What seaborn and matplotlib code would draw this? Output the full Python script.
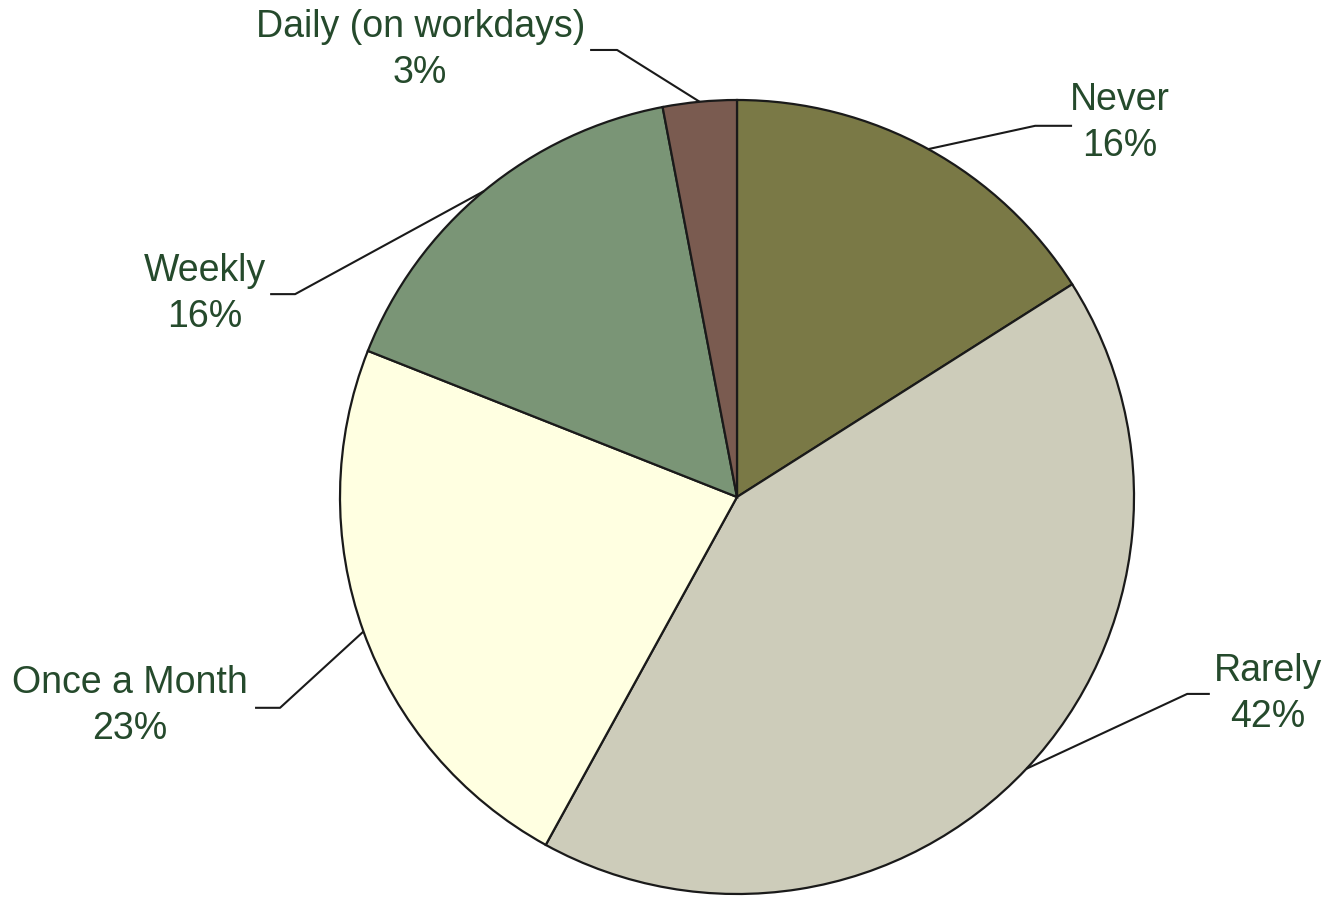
import seaborn as sns
import matplotlib.pyplot as plt
import numpy as np

# Survey answers, clockwise from 12 o'clock
categories = ["Never", "Rarely", "Once a Month", "Weekly", "Daily (on workdays)"]
shares = [16, 42, 23, 16, 3]

colors = ["#7a7946", "#cdccba", "#ffffe1", "#7a9576", "#7a5b50"]
text_color = "#254a2c"

# label placement (pie radius = 1): elbow of leader line, end of leader, text centre
label_pos = [
    ((0.751, 0.935), (0.844, 0.935), (0.965, 0.942)),
    ((1.134, -0.496), (1.191, -0.496), (1.338, -0.496)),
    ((-1.151, -0.531), (-1.214, -0.531), (-1.529, -0.526)),
    ((-1.113, 0.511), (-1.176, 0.511), (-1.340, 0.511)),
    ((-0.302, 1.126), (-0.370, 1.126), (-0.798, 1.126)),
]

sns.set_theme(style="white")
plt.rcParams["font.family"] = ["Liberation Sans", "DejaVu Sans"]

fig = plt.figure(figsize=(13.32, 8.97), dpi=100)
ax = fig.add_axes([0, 0, 1, 1])

wedges, _ = ax.pie(
    shares,
    colors=colors,
    startangle=90,
    counterclock=False,
    radius=1,
    wedgeprops=dict(edgecolor="#1a1a1a", linewidth=1.6),
)

total = sum(shares)
for w, name, val, (elbow, end, txt) in zip(wedges, categories, shares, label_pos):
    mid = np.deg2rad((w.theta1 + w.theta2) / 2)
    x0, y0 = np.cos(mid), np.sin(mid)
    ax.plot([x0, elbow[0], end[0]], [y0, elbow[1], end[1]],
            color="#1a1a1a", lw=1.5, solid_capstyle="butt")
    ax.text(txt[0], txt[1], f"{name}\n{round(100 * val / total)}%",
            ha="center", va="center", fontsize=27, color=text_color,
            linespacing=1.38)

ax.set_xlim(-737 / 397, (1332 - 737) / 397)
ax.set_ylim(-(897 - 497) / 397, 497 / 397)
ax.set_aspect("auto")
ax.axis("off")

plt.savefig("out.png", dpi=100, facecolor="white")
plt.close()
